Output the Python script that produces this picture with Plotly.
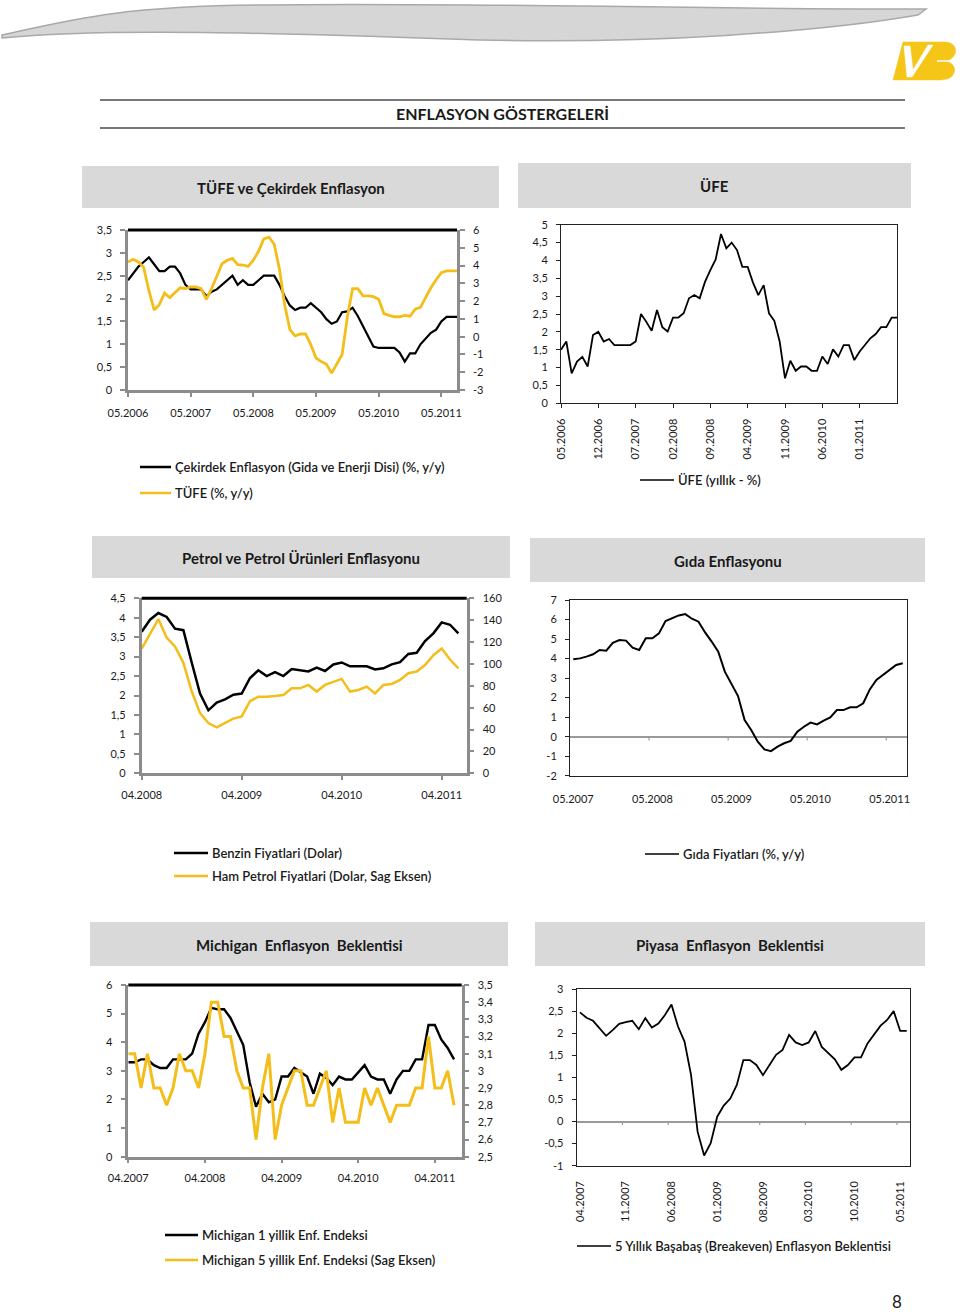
import plotly.graph_objects as go

W, H = 960, 1312


def fx(p):
    return p / W


def fy(p):
    return 1 - p / H


FONT = "Lato, 'Open Sans', sans-serif"
GOLD = "#F4BE1A"
AXGRAY = "#8c8c8c"
TXT = "#1a1a1a"

# ---------------- data ----------------
tufe_ticks = ["05.2006", "05.2007", "05.2008", "05.2009", "05.2010", "05.2011"]
cekirdek = [2.4, 2.55, 2.7, 2.8, 2.9, 2.75, 2.6, 2.6, 2.7, 2.7,
            2.55, 2.3, 2.2, 2.2, 2.2, 2.05, 2.15, 2.2, 2.3, 2.4,
            2.5, 2.3, 2.4, 2.3, 2.3, 2.4, 2.5, 2.5, 2.5, 2.3,
            2.05, 1.85, 1.75, 1.8, 1.8, 1.9, 1.8, 1.7, 1.55, 1.45,
            1.5, 1.7, 1.72, 1.8, 1.62, 1.4, 1.15, 0.95, 0.92, 0.92,
            0.92, 0.92, 0.82, 0.62, 0.8, 0.8, 1.0, 1.12, 1.25, 1.32,
            1.5, 1.6, 1.6, 1.6]
tufe = [4.2, 4.35, 4.2, 3.9, 2.6, 1.5, 1.8, 2.45, 2.2, 2.5,
        2.75, 2.7, 2.8, 2.8, 2.7, 2.1, 2.7, 3.4, 4.1, 4.3,
        4.4, 4.05, 4.03, 3.95, 4.3, 4.8, 5.5, 5.6, 5.2, 3.8,
        1.8, 0.4, 0.05, 0.15, 0.15, -0.45, -1.2, -1.4, -1.55, -2.05,
        -1.5, -1.0, 1.1, 2.7, 2.7, 2.3, 2.3, 2.25, 2.1, 1.3,
        1.2, 1.12, 1.12, 1.2, 1.15, 1.55, 1.65, 2.2, 2.75, 3.2,
        3.6, 3.7, 3.7, 3.7]

ufe_ticks = ["05.2006", "12.2006", "07.2007", "02.2008", "09.2008",
             "04.2009", "11.2009", "06.2010", "01.2011"]
ufe = [1.5, 1.73, 0.84, 1.17, 1.3, 1.03, 1.91, 2.0, 1.73, 1.8,
       1.63, 1.63, 1.63, 1.63, 1.73, 2.5, 2.28, 2.03, 2.61, 2.13,
       2.01, 2.4, 2.4, 2.52, 2.94, 3.03, 2.94, 3.4, 3.73, 4.03,
       4.74, 4.34, 4.5, 4.29, 3.82, 3.82, 3.38, 3.03, 3.31, 2.52,
       2.31, 1.73, 0.7, 1.19, 0.91, 1.03, 1.03, 0.91, 0.91, 1.31,
       1.1, 1.51, 1.31, 1.63, 1.63, 1.21, 1.45, 1.63, 1.82, 1.94,
       2.13, 2.13, 2.4, 2.4]

petrol_ticks = ["04.2008", "04.2009", "04.2010", "04.2011"]
benzin = [3.64, 3.95, 4.12, 4.02, 3.72, 3.68, 2.85, 2.05, 1.62, 1.82,
          1.9, 2.02, 2.05, 2.45, 2.65, 2.5, 2.6, 2.5, 2.68, 2.65,
          2.62, 2.72, 2.63, 2.8, 2.85, 2.75, 2.75, 2.75, 2.67, 2.7,
          2.8, 2.86, 3.07, 3.1, 3.4, 3.6, 3.88, 3.82, 3.6]
ham_petrol = [114, 128, 141, 124, 116, 101, 75, 55, 46, 42,
              46, 50, 52, 66, 70, 70, 70.7, 71.6, 77.7, 77.7,
              80.8, 74.7, 80.8, 83.8, 86.3, 74.7, 76.2, 79.3, 73, 80.8,
              81.7, 85.4, 91.5, 93, 99, 108, 114, 104, 96]

gida_ticks = ["05.2007", "05.2008", "05.2009", "05.2010", "05.2011"]
gida = [3.96, 4.01, 4.1, 4.22, 4.44, 4.4, 4.81, 4.95, 4.92, 4.56,
        4.44, 5.04, 5.04, 5.29, 5.92, 6.06, 6.21, 6.28, 6.04, 5.89,
        5.34, 4.87, 4.35, 3.33, 2.73, 2.08, 0.85, 0.34, -0.26, -0.65,
        -0.74, -0.51, -0.34, -0.22, 0.25, 0.51, 0.72, 0.63, 0.82, 0.99,
        1.36, 1.36, 1.5, 1.5, 1.71, 2.42, 2.9, 3.16, 3.41, 3.67,
        3.76]

mich_ticks = ["04.2007", "04.2008", "04.2009", "04.2010", "04.2011"]
mich_1y = [3.3, 3.3, 3.4, 3.4, 3.2, 3.1, 3.1, 3.4, 3.4, 3.4,
           3.6, 4.3, 4.7, 5.2, 5.15, 5.15, 4.85, 4.4, 3.9, 2.6,
           1.75, 2.2, 1.9, 2.0, 2.8, 2.8, 3.1, 2.95, 2.8, 2.2,
           2.9, 2.75, 2.5, 2.8, 2.7, 2.7, 2.95, 3.2, 2.8, 2.7,
           2.7, 2.2, 2.7, 3.0, 3.0, 3.4, 3.4, 4.6, 4.6, 4.1,
           3.8, 3.4]
mich_5y = [3.1, 3.1, 2.9, 3.1, 2.9, 2.9, 2.8, 2.9, 3.1, 3.0,
           3.0, 2.9, 3.1, 3.4, 3.4, 3.2, 3.2, 3.0, 2.9, 2.9,
           2.6, 2.9, 3.1, 2.6, 2.8, 2.9, 3.0, 3.0, 2.8, 2.8,
           2.9, 3.0, 2.7, 2.9, 2.7, 2.7, 2.7, 2.9, 2.8, 2.9,
           2.8, 2.7, 2.8, 2.8, 2.8, 2.9, 2.9, 3.2, 2.9, 2.9,
           3.0, 2.8]

piyasa_ticks = ["04.2007", "11.2007", "06.2008", "01.2009", "08.2009",
                "03.2010", "10.2010", "05.2011"]
breakeven = [2.47, 2.35, 2.28, 2.11, 1.94, 2.07, 2.21, 2.25, 2.28, 2.09,
             2.34, 2.13, 2.22, 2.41, 2.65, 2.15, 1.81, 1.05, -0.23, -0.77,
             -0.49, 0.11, 0.36, 0.52, 0.83, 1.39, 1.39, 1.28, 1.05, 1.28,
             1.51, 1.62, 1.96, 1.79, 1.73, 1.79, 2.05, 1.69, 1.54, 1.41,
             1.17, 1.28, 1.45, 1.45, 1.77, 1.96, 2.17, 2.3, 2.5, 2.05,
             2.05]


def idx(v):
    return list(range(len(v)))


def tv(labels, step):
    return [i * step for i in range(len(labels))]


def yticks(lo, hi, step):
    n = int(round((hi - lo) / step))
    vals = [round(lo + k * step, 6) for k in range(n + 1)]
    text = [f"{v:g}".replace(".", ",") for v in vals]
    return vals, text


fig = go.Figure()

# ---------------- traces ----------------
fig.add_trace(go.Scatter(x=idx(cekirdek), y=cekirdek, mode="lines",
                         line=dict(color="#000000", width=2.2), xaxis="x", yaxis="y"))
fig.add_trace(go.Scatter(x=idx(tufe), y=tufe, mode="lines",
                         line=dict(color=GOLD, width=2.8), xaxis="x", yaxis="y2"))
fig.add_trace(go.Scatter(x=idx(ufe), y=ufe, mode="lines",
                         line=dict(color="#000000", width=1.8), xaxis="x2", yaxis="y3"))
fig.add_trace(go.Scatter(x=idx(benzin), y=benzin, mode="lines",
                         line=dict(color="#000000", width=2.5), xaxis="x3", yaxis="y4"))
fig.add_trace(go.Scatter(x=idx(ham_petrol), y=ham_petrol, mode="lines",
                         line=dict(color=GOLD, width=2.5), xaxis="x3", yaxis="y5"))
fig.add_trace(go.Scatter(x=idx(gida), y=gida, mode="lines",
                         line=dict(color="#000000", width=2.0), xaxis="x4", yaxis="y6"))
fig.add_trace(go.Scatter(x=idx(mich_1y), y=mich_1y, mode="lines",
                         line=dict(color="#000000", width=2.4), xaxis="x5", yaxis="y7"))
fig.add_trace(go.Scatter(x=idx(mich_5y), y=mich_5y, mode="lines",
                         line=dict(color=GOLD, width=3.0), xaxis="x5", yaxis="y8"))
fig.add_trace(go.Scatter(x=idx(breakeven), y=breakeven, mode="lines",
                         line=dict(color="#000000", width=1.8), xaxis="x6", yaxis="y9"))

tickfont = dict(family=FONT, size=11, color=TXT)


def gray_x(dom, anchor, rng, vals, text, standoff=8):
    return dict(domain=[fx(dom[0]), fx(dom[1])], anchor=anchor, range=rng,
                tickvals=vals, ticktext=text, showline=True, linecolor=AXGRAY,
                linewidth=2.5, ticks="outside", ticklen=4, tickcolor=AXGRAY,
                tickwidth=1.5, showgrid=False, zeroline=False, tickfont=tickfont,
                ticklabelstandoff=standoff, automargin=False)


def gray_y(dom, anchor, rng, dtick, side="left", overlay=None):
    vals, text = yticks(rng[0], rng[1], dtick)
    d = dict(domain=[fy(dom[1]), fy(dom[0])], anchor=anchor, range=rng,
             tickvals=vals, ticktext=text,
             showline=True, linecolor=AXGRAY, linewidth=2.5, ticks="outside",
             ticklen=5, tickcolor=AXGRAY, tickwidth=1.5, showgrid=False,
             zeroline=False, tickfont=tickfont, side=side, ticklabelstandoff=6,
             automargin=False)
    if overlay:
        d["overlaying"] = overlay
    return d


def box_x(dom, anchor, rng, vals, text, angle=0, ticks="outside", standoff=8):
    return dict(domain=[fx(dom[0]), fx(dom[1])], anchor=anchor, range=rng,
                tickvals=vals, ticktext=text, showline=True, linecolor="#222222",
                linewidth=1, mirror=True, ticks=ticks, ticklen=4, tickcolor="#222222",
                showgrid=False, zeroline=False, tickfont=tickfont, tickangle=angle,
                ticklabelstandoff=standoff, automargin=False)


def box_y(dom, anchor, rng, dtick, zero=False):
    vals, text = yticks(rng[0], rng[1], dtick)
    return dict(domain=[fy(dom[1]), fy(dom[0])], anchor=anchor, range=rng,
                tickvals=vals, ticktext=text,
                showline=True, linecolor="#222222", linewidth=1, mirror=True,
                ticks="outside", ticklen=4, tickcolor="#222222", showgrid=False,
                zeroline=zero, zerolinecolor="#9a9a9a", zerolinewidth=1.5,
                tickfont=tickfont, ticklabelstandoff=6, automargin=False)


# panel geometry (pixel)
P1 = (128, 457, 230, 390)
P2 = (561, 897, 224.7, 403.3)
P3 = (141.7, 466.7, 598.3, 773.3)
P4 = (570, 906.7, 600, 775.7)
P5 = (128.3, 461.7, 985, 1156.7)
P6 = (576.7, 910, 989, 1165.7)

fig.update_layout(
    template="none",
    xaxis=gray_x(P1[:2], "y", [0, len(cekirdek) - 1], tv(tufe_ticks, 12), tufe_ticks,
                 standoff=7),
    yaxis=gray_y(P1[2:], "x", [0, 3.5], 0.5),
    yaxis2=gray_y(P1[2:], "x", [-3, 6], 1, side="right", overlay="y"),
    xaxis2=box_x(P2[:2], "y3", [0, len(ufe) - 1], tv(ufe_ticks, 7), ufe_ticks, angle=-90,
                 standoff=6),
    yaxis3=box_y(P2[2:], "x2", [0, 5], 0.5),
    xaxis3=gray_x(P3[:2], "y4", [0, len(benzin)], tv(petrol_ticks, 12), petrol_ticks,
                  standoff=6),
    yaxis4=gray_y(P3[2:], "x3", [0, 4.5], 0.5),
    yaxis5=gray_y(P3[2:], "x3", [0, 160], 20, side="right", overlay="y4"),
    xaxis4=box_x(P4[:2], "y6", [-0.5, len(gida) - 0.4], tv(gida_ticks, 12), gida_ticks,
                 ticks="", standoff=13),
    yaxis6=box_y(P4[2:], "x4", [-2, 7], 1, zero=True),
    xaxis5=gray_x(P5[:2], "y7", [0, 52.2], tv(mich_ticks, 12), mich_ticks, standoff=5),
    yaxis7=gray_y(P5[2:], "x5", [0, 6], 1),
    yaxis8=gray_y(P5[2:], "x5", [2.5, 3.5], 0.1, side="right", overlay="y7"),
    xaxis6=box_x(P6[:2], "y9", [-0.5, len(breakeven) - 0.5], tv(piyasa_ticks, 7),
                 piyasa_ticks, angle=-90, ticks="", standoff=10),
    yaxis9=box_y(P6[2:], "x6", [-1, 3], 0.5, zero=True),
)

shapes = []
annotations = []


def pline(x0, y0, x1, y1, color, width):
    shapes.append(dict(type="line", xref="paper", yref="paper", x0=fx(x0), y0=fy(y0),
                       x1=fx(x1), y1=fy(y1), line=dict(color=color, width=width)))


def ptext(x, y, text, size=12, bold=False, anchor="left", color=TXT, weight=None):
    t = f"<b>{text}</b>" if bold else text
    font = dict(family=FONT, size=size, color=color)
    if weight:
        font["weight"] = weight
    annotations.append(dict(xref="paper", yref="paper", x=fx(x), y=fy(y), text=t,
                            showarrow=False, xanchor=anchor, yanchor="middle",
                            font=font))


def prect(x0, y0, x1, y1, fill):
    shapes.append(dict(type="rect", xref="paper", yref="paper", x0=fx(x0), y0=fy(y1),
                       x1=fx(x1), y1=fy(y0), fillcolor=fill, line=dict(width=0),
                       layer="below"))


def ppath(cmds, fill, line_color, lw):
    parts = []
    for c in cmds:
        if isinstance(c, str):
            parts.append(c)
        else:
            parts.append(f"{fx(c[0]):.5f},{fy(c[1]):.5f}")
    shapes.append(dict(type="path", xref="paper", yref="paper", path=" ".join(parts),
                       fillcolor=fill, line=dict(color=line_color, width=lw)))


# header swoosh
ppath(["M", (2, 35), "C", (70, 20), (120, 6), (260, 5), "C", (450, 2), (660, 9), (926, 9),
       "L", (918, 15), "C", (820, 32), (650, 44), (480, 40), "C", (300, 34), (110, 27),
       (2, 38), "Z"], "#d6d6d6", "#a9a9a9", 1.5)
# logo
ppath(["M", (903, 42), "L", (944, 42), "C", (954, 42), (957, 48), (955, 54), "C", (953, 58),
       (950, 60), (946, 61), "C", (953, 63), (956, 68), (954, 73), "C", (952, 78), (947, 80),
       (938, 80), "L", (893, 80), "Z"], "#F5C518", "#F5C518", 0.5)
ppath(["M", (904, 46), "L", (910, 46), "L", (913, 70), "L", (928, 45), "L", (933, 45),
       "L", (912, 77), "L", (907, 77), "Z"], "#ffffff", "#ffffff", 0.5)
pline(937, 61, 956, 61, "#ffffff", 1.5)

# title
pline(100, 100, 905, 100, "#4a4a4a", 1.3)
pline(100, 128, 905, 128, "#4a4a4a", 1.3)
ptext(502, 113, "ENFLASYON GÖSTERGELERİ", size=16, bold=True, anchor="center")

# panel title boxes
boxes = [((82, 166, 499, 208), "TÜFE ve Çekirdek Enflasyon"),
         ((518, 163, 911, 208), "ÜFE"),
         ((92, 536, 510, 578), "Petrol ve Petrol Ürünleri Enflasyonu"),
         ((530, 538, 925, 582), "Gıda Enflasyonu"),
         ((90, 922, 508, 966), "Michigan  Enflasyon  Beklentisi"),
         ((535, 922, 925, 966), "Piyasa  Enflasyon  Beklentisi")]
for (x0, y0, x1, y1), t in boxes:
    prect(x0, y0, x1, y1, "#d9d9d9")
    ptext((x0 + x1) / 2, (y0 + y1) / 2 + 1, t, size=15, bold=True, anchor="center")

# black top borders of the dual-axis panels
for P in (P1, P3, P5):
    pline(P[0], P[2], P[1], P[2], "#000000", 3)

# tick marks on zero lines (Gıda, Piyasa)
for val in tv(gida_ticks, 12)[1:]:
    shapes.append(dict(type="line", xref="x4", yref="y6", x0=val - 0.5, x1=val - 0.5,
                       y0=0, y1=-0.2, line=dict(color="#9a9a9a", width=1.2)))
for val in tv(piyasa_ticks, 7)[1:]:
    shapes.append(dict(type="line", xref="x6", yref="y9", x0=val - 0.5, x1=val - 0.5,
                       y0=0, y1=-0.08, line=dict(color="#9a9a9a", width=1.2)))

# legends
LEG = 13
LW = 600
pline(140, 467, 171, 467, "#000000", 2.5)
ptext(173, 467, "Çekirdek Enflasyon (Gida ve Enerji Disi) (%, y/y)", size=LEG, weight=LW)
pline(140, 493, 171, 493, GOLD, 2.5)
ptext(173, 493, "TÜFE (%, y/y)", size=LEG, weight=LW)

pline(640, 480, 674, 480, "#000000", 1.5)
ptext(676, 480, "ÜFE (yıllık - %)", size=LEG, weight=LW)

pline(174, 853, 208, 853, "#000000", 2.5)
ptext(210, 853, "Benzin Fiyatlari (Dolar)", size=LEG, weight=LW)
pline(174, 876, 208, 876, GOLD, 2.5)
ptext(210, 876, "Ham Petrol Fiyatlari (Dolar, Sag Eksen)", size=LEG, weight=LW)

pline(645, 854, 679, 854, "#000000", 1.5)
ptext(681, 854, "Gıda Fiyatları (%, y/y)", size=LEG, weight=LW)

pline(165, 1235, 198, 1235, "#000000", 2.5)
ptext(200, 1235, "Michigan 1 yillik Enf. Endeksi", size=LEG, weight=LW)
pline(165, 1260, 198, 1260, GOLD, 2.5)
ptext(200, 1260, "Michigan 5 yillik Enf. Endeksi (Sag Eksen)", size=LEG, weight=LW)

pline(577, 1246, 611, 1246, "#000000", 1.5)
ptext(613, 1246, "5 Yıllık Başabaş (Breakeven) Enflasyon Beklentisi", size=LEG, weight=LW)

# page number
ptext(897, 1301, "8", size=17, anchor="center")

fig.update_layout(
    width=W, height=H, margin=dict(l=0, r=0, t=0, b=0, pad=0, autoexpand=False),
    paper_bgcolor="white", plot_bgcolor="rgba(0,0,0,0)",
    showlegend=False, separators=",.",
    font=dict(family=FONT, size=11, color=TXT),
    shapes=shapes, annotations=annotations,
)

fig.write_html("out.html", config={"displayModeBar": False},
               post_script="document.body.style.margin='0';document.body.style.padding='0';")
